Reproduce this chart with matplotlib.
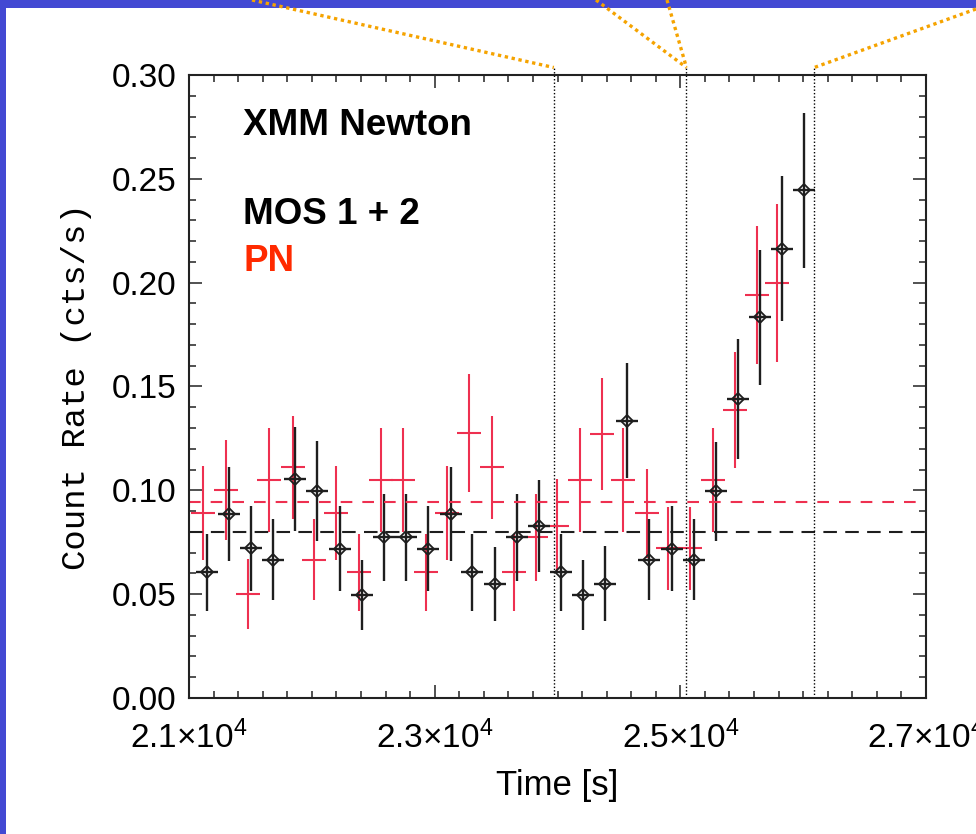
"""
XMM Newton light curve (MOS 1+2 and PN) with flare onset markers
"""

import matplotlib
matplotlib.use("Agg")
import matplotlib.pyplot as plt
from matplotlib.lines import Line2D
from matplotlib.patches import Rectangle
from matplotlib.ticker import MultipleLocator, FixedLocator, FixedFormatter
from matplotlib.transforms import blended_transform_factory

plt.rcParams['font.family'] = ['Liberation Sans', 'DejaVu Sans']
plt.rcParams['mathtext.fontset'] = 'custom'
plt.rcParams['mathtext.rm'] = 'Liberation Sans'

# MOS 1 + 2 light curve (black)
mos_time = [21149, 21326, 21502, 21686, 21865, 22040, 22229, 22408, 22588, 22767,
            22946, 23131, 23306, 23489, 23673, 23849, 24026, 24210, 24387, 24568,
            24747, 24930, 25111, 25290, 25470, 25649, 25830, 26009]
mos_rate = [0.0605, 0.0885, 0.0721, 0.0665, 0.1053, 0.0997, 0.0718, 0.0496, 0.0774, 0.0774,
            0.0718, 0.0886, 0.0605, 0.0549, 0.0774, 0.0830, 0.0605, 0.0496, 0.0551, 0.1334,
            0.0665, 0.0719, 0.0665, 0.0995, 0.1440, 0.1833, 0.2164, 0.2446]
mos_err = [0.0185, 0.0225, 0.0205, 0.0195, 0.0250, 0.0240, 0.0205, 0.0170, 0.0210, 0.0210,
           0.0205, 0.0225, 0.0185, 0.0180, 0.0210, 0.0222, 0.0185, 0.0170, 0.0180, 0.0277,
           0.0195, 0.0205, 0.0195, 0.0240, 0.0290, 0.0324, 0.0350, 0.0373]
mos_halfbin = 90
mos_mean = 0.0801

# PN light curve (red)
pn_time = [21112, 21301, 21478, 21654, 21844, 22020, 22197, 22384, 22563, 22740,
           22927, 23103, 23277, 23467, 23648, 23823, 23994, 24183, 24360, 24536,
           24726, 24902, 25079, 25266, 25445, 25622, 25785]
pn_rate = [0.089, 0.100, 0.050, 0.105, 0.111, 0.0665, 0.089, 0.0605, 0.105, 0.105,
           0.0605, 0.089, 0.1275, 0.111, 0.0605, 0.0774, 0.0828, 0.105, 0.127, 0.105,
           0.089, 0.072, 0.072, 0.105, 0.1387, 0.194, 0.200]
pn_err = [0.0225, 0.024, 0.017, 0.025, 0.025, 0.0195, 0.0225, 0.0185, 0.025, 0.025,
          0.0185, 0.0225, 0.0285, 0.025, 0.0185, 0.021, 0.0225, 0.025, 0.027, 0.025,
          0.0215, 0.020, 0.020, 0.025, 0.0278, 0.0332, 0.038]
pn_halfbin = 98
pn_mean = 0.0942

# marked epochs (dotted verticals)
mark_times = [23970, 25050, 26090]

# tick labels
xtick_pos = [21000, 23000, 25000, 27000]
xtick_lab = [r'$\mathregular{2.1{\times}10^{4}}$', r'$\mathregular{2.3{\times}10^{4}}$',
             r'$\mathregular{2.5{\times}10^{4}}$', r'$\mathregular{2.7{\times}10^{4}}$']

BLUE = '#4349d3'
ORANGE = '#f5a300'
RED = '#ee3050'
BLACK = '#1e1e1e'

W, H = 976, 834
fig = plt.figure(figsize=(W / 100, H / 100), dpi=100)
fig.patch.set_facecolor('white')

# slide frame
fig.patches.append(Rectangle((0, 0), 6 / W, 1, transform=fig.transFigure,
                             facecolor=BLUE, edgecolor='none', zorder=0))
fig.patches.append(Rectangle((0, 1 - 8 / H), 1, 8 / H, transform=fig.transFigure,
                             facecolor=BLUE, edgecolor='none', zorder=0))

ax = fig.add_axes([189 / W, 1 - 698 / H, 737 / W, 623 / H])

# PN first, MOS on top
ax.errorbar(pn_time, pn_rate, yerr=pn_err, xerr=pn_halfbin, fmt='none',
            ecolor=RED, elinewidth=1.5, capsize=0)
ax.errorbar(mos_time, mos_rate, yerr=mos_err, xerr=mos_halfbin, fmt='D',
            mfc='none', mec=BLACK, ms=6.5, mew=1.3,
            ecolor=BLACK, elinewidth=1.7, capsize=0)

ax.axhline(pn_mean, color=RED, lw=1.5, ls=(0, (5.6, 4.8)))
ax.axhline(mos_mean, color=BLACK, lw=1.5, ls=(0, (6.5, 4.0)))

for t in mark_times:
    ax.axvline(t, ymin=0, ymax=1.012, color='black', lw=1.0, ls=(0, (1, 1.5)),
               clip_on=False)

ax.set_xlim(21000, 27000)
ax.set_ylim(0, 0.30)
ax.xaxis.set_major_locator(FixedLocator(xtick_pos))
ax.xaxis.set_major_formatter(FixedFormatter(xtick_lab))
ax.xaxis.set_minor_locator(MultipleLocator(200))
ax.yaxis.set_major_locator(MultipleLocator(0.05))
ax.yaxis.set_minor_locator(MultipleLocator(0.01))
ax.yaxis.set_major_formatter(plt.FormatStrFormatter('%.2f'))

ax.tick_params(which='both', direction='in', top=True, right=True, width=1.1,
               color='#222222')
ax.tick_params(which='major', length=9.5, labelsize=24)
ax.tick_params(axis='y', which='major', pad=9)
ax.tick_params(axis='x', which='major', pad=16)
ax.tick_params(which='minor', length=5)
for sp in ax.spines.values():
    sp.set_linewidth(1.5)
    sp.set_color('#222222')

ax.set_xlabel('Time [s]', fontsize=25, labelpad=10)
ax.set_ylabel('Count Rate (cts/s)', fontsize=24.5, family='Liberation Mono',
              labelpad=14)

ax.text(0.0733, 0.9037, 'XMM Newton', transform=ax.transAxes, fontsize=26.5,
        fontweight='bold', color='black', va='baseline')
ax.text(0.0733, 0.7608, 'MOS 1 + 2', transform=ax.transAxes, fontsize=26.5,
        fontweight='bold', color='black', va='baseline')
ax.text(0.0733, 0.6859, 'PN', transform=ax.transAxes, fontsize=26.5,
        fontweight='bold', color='#ff2a00', va='baseline')

# orange pointers from the top of the slide to the marked epochs
top_tr = blended_transform_factory(ax.transData, ax.transAxes)
to_fig = fig.transFigure.inverted()
starts = [(252, H), (596, H), (667, H), (W, H - 9)]
ends = [mark_times[0], mark_times[1], mark_times[1], mark_times[2]]
for (sx, sy), t in zip(starts, ends):
    ex, ey = to_fig.transform(top_tr.transform((t, 1.012)))
    fig.add_artist(Line2D([sx / W, ex], [sy / H, ey], transform=fig.transFigure,
                          color=ORANGE, lw=2.4, ls=(0, (1.0, 1.1)),
                          dash_capstyle='butt', zorder=5))

fig.savefig('out.png', dpi=100)
